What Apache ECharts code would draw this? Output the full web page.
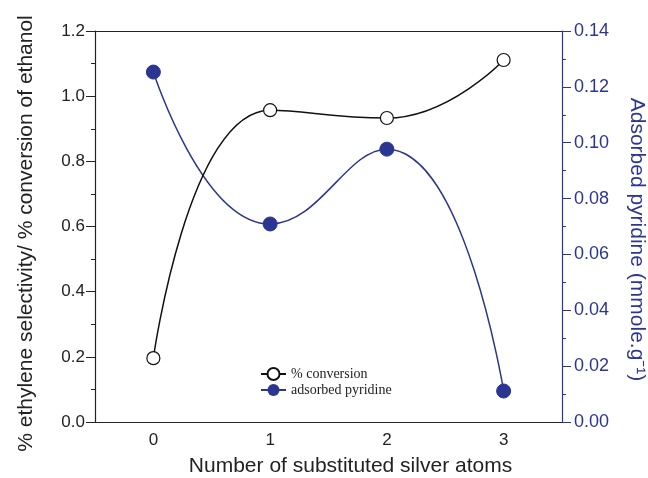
<!DOCTYPE html>
<html>
<head>
<meta charset="utf-8">
<script src="https://cdn.jsdelivr.net/npm/echarts@6/dist/echarts.min.js"></script>
</head>
<body style="margin:0;background:#fff">
<div id="main" style="width:648px;height:478px"></div>
<script>
var atoms = ['0', '1', '2', '3'];
var conversion = [0.196, 0.957, 0.933, 1.111];
var pyridine = [0.1253, 0.0709, 0.0977, 0.0111];

var blue = '#2b3592';
var chart = echarts.init(document.getElementById('main'));
var option = {
    backgroundColor: '#fff',
    animation: false,
    textStyle: { fontFamily: 'Liberation Sans' },
    grid: { left: 95, right: 86, top: 31, bottom: 56, containLabel: false, outerBoundsMode: 'none' },
    legend: {
        orient: 'vertical',
        left: 255,
        top: 362,
        itemWidth: 25,
        itemHeight: 15,
        itemGap: 2,
        textStyle: { fontFamily: 'Liberation Serif', fontSize: 14, color: '#222' },
        data: ['% conversion', 'adsorbed pyridine']
    },
    xAxis: [{
        type: 'category',
        data: atoms,
        boundaryGap: true,
        name: 'Number of substituted silver atoms',
        nameLocation: 'middle',
        nameGap: 34,
        nameTextStyle: { fontSize: 21, color: '#222', padding: [0, 0, 0, 44] },
        axisLine: { lineStyle: { color: '#222', width: 1.2 } },
        axisTick: { alignWithLabel: true, length: 6, lineStyle: { color: '#222' } },
        axisLabel: { fontSize: 17, color: '#222', margin: 10 }
    }, {
        type: 'category',
        data: atoms,
        position: 'top',
        boundaryGap: true,
        axisLine: { onZero: false, lineStyle: { color: '#222', width: 1.2 } },
        axisTick: { alignWithLabel: true, inside: true, length: 3, lineStyle: { color: '#999' } },
        axisLabel: { show: false }
    }],
    yAxis: [{
        type: 'value',
        min: 0,
        max: 1.2,
        interval: 0.2,
        name: '% ethylene selectivity/ % conversion of ethanol',
        nameLocation: 'middle',
        nameGap: 58,
        nameTextStyle: { fontSize: 21, color: '#222', padding: [0, 14, 0, 0] },
        axisLine: { show: true, lineStyle: { color: '#222', width: 1.2 } },
        axisTick: { show: true, length: 9, lineStyle: { color: '#222' } },
        minorTick: { show: true, splitNumber: 2, length: 4, lineStyle: { color: '#222' } },
        splitLine: { show: false },
        axisLabel: {
            fontSize: 17, color: '#222', margin: 10,
            formatter: function (v) { return v.toFixed(1); }
        }
    }, {
        type: 'value',
        min: 0,
        max: 0.14,
        interval: 0.02,
        position: 'right',
        name: 'Adsorbed pyridine (mmole.g\u207B\u00B9)',
        nameLocation: 'middle',
        nameGap: 64,
        nameRotate: -90,
        nameTextStyle: { fontSize: 21, color: blue, padding: [0, 0, 0, 26] },
        axisLine: { show: true, lineStyle: { color: blue, width: 1.2 } },
        axisTick: { show: true, length: 9, lineStyle: { color: blue } },
        minorTick: { show: true, splitNumber: 2, length: 4, lineStyle: { color: blue } },
        splitLine: { show: false },
        axisLabel: {
            fontSize: 18, color: blue, margin: 12,
            formatter: function (v) { return v.toFixed(2); }
        }
    }],
    series: [{
        name: '% conversion',
        type: 'line',
        data: conversion,
        yAxisIndex: 0,
        smooth: 0.5,
        symbol: 'circle',
        symbolSize: 13,
        lineStyle: { color: '#111', width: 1.5 },
        itemStyle: { color: '#fff', borderColor: '#111', borderWidth: 1.2 },
        z: 3
    }, {
        name: 'adsorbed pyridine',
        type: 'line',
        data: pyridine,
        yAxisIndex: 1,
        smooth: 0.5,
        symbol: 'circle',
        symbolSize: 14,
        lineStyle: { color: blue, width: 1.5 },
        itemStyle: { color: blue, borderColor: blue },
        z: 2
    }]
};
chart.setOption(option);
</script>
</body>
</html>
